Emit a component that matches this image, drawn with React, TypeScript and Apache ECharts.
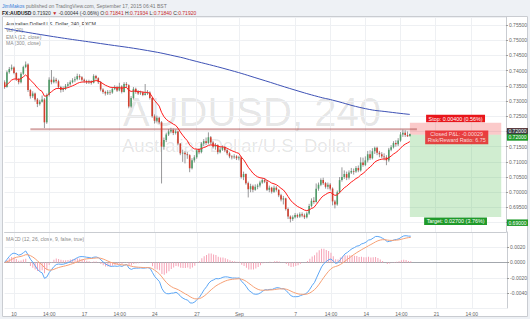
import { useEffect, useRef } from 'react';
import * as echarts from 'echarts';

const FONT = '"Liberation Sans", Arial, sans-serif';

// ---------- data ----------
const BASE = 0.69;
const PIP = 0.0001;

const tradingDays = [
  'Aug 7', 'Aug 10', 'Aug 11', 'Aug 12', 'Aug 13', 'Aug 14', 'Aug 17', 'Aug 18', 'Aug 19', 'Aug 20', 'Aug 21',
  'Aug 24', 'Aug 25', 'Aug 26', 'Aug 27', 'Aug 28', 'Aug 31', 'Sep 1', 'Sep 2', 'Sep 3', 'Sep 4',
  'Sep 7', 'Sep 8', 'Sep 9', 'Sep 10', 'Sep 11', 'Sep 14', 'Sep 15', 'Sep 16', 'Sep 17', 'Sep 18',
  'Sep 21', 'Sep 22', 'Sep 23', 'Sep 24', 'Sep 25', 'Sep 28',
];
const barHours = ['02:00', '06:00', '10:00', '14:00', '18:00', '22:00'];
const skippedFirstBars = 2;
const slotCount = 215;

const tickLabels: [string, string][] = [
  ['Aug 10 02:00', '10'], ['Aug 12 14:00', '14:00'], ['Aug 17 02:00', '17'], ['Aug 19 14:00', '14:00'],
  ['Aug 24 02:00', '24'], ['Aug 27 02:00', '27'], ['Sep 1 02:00', 'Sep'], ['Sep 7 02:00', '7'],
  ['Sep 9 14:00', '14:00'], ['Sep 14 02:00', '14'], ['Sep 16 14:00', '14:00'], ['Sep 21 02:00', '21'],
  ['Sep 23 14:00', '14:00'],
];

// pips above 0.69000
const firstOpenPips = 462;
const closePips = [
  446, 495, 505, 510, 492, 472, 462, 490, 512, 520,
  436, 416, 425, 405, 390, 398, 405, 330, 420, 470,
  462, 470, 465, 446, 436, 440, 450, 455, 462, 468,
  472, 482, 478, 470, 466, 462, 465, 460, 482, 475,
  462, 438, 430, 425, 430, 428, 440, 445, 435, 448,
  430, 456, 452, 382, 410, 440, 430, 425, 428, 420,
  425, 428, 410, 350, 335, 345, 330, 250, 272, 290,
  300, 305, 295, 300, 260, 228, 230, 225, 222, 179,
  205, 215, 238, 232, 260, 268, 262, 281, 264, 250,
  255, 232, 240, 248, 238, 228, 218, 215, 218, 212,
  215, 150, 160, 130, 110, 120, 108, 118, 122, 132,
  140, 135, 108, 115, 102, 115, 108, 90, 76, 80,
  45, 20, 12, 18, 25, 20, 28, 24, 18, 30,
  55, 72, 68, 112, 125, 140, 130, 118, 125, 112,
  70, 60, 100, 140, 150, 160, 148, 165, 170, 168,
  180, 172, 198, 190, 205, 225, 212, 235, 246, 230,
  225, 218, 215, 205, 240, 248, 262, 258, 270, 290,
  296, 288, 284, 292,
];
const highPips = [
  468, 500, 512, 520, 514, 495, 476, 495, 516, 530,
  524, 440, 432, 428, 410, 404, 418, 410, 425, 478,
  502, 480, 476, 470, 450, 448, 456, 462, 468, 475,
  480, 490, 488, 482, 474, 470, 470, 468, 488, 486,
  478, 466, 442, 434, 436, 436, 446, 452, 450, 460,
  452, 462, 462, 455, 416, 446, 444, 436, 434, 432,
  456, 436, 432, 412, 356, 352, 348, 334, 280, 296,
  308, 312, 310, 306, 302, 262, 240, 236, 232, 225,
  212, 222, 242, 245, 265, 275, 280, 297, 285, 268,
  262, 258, 248, 254, 252, 242, 232, 222, 225, 222,
  220, 218, 168, 162, 135, 128, 125, 126, 128, 138,
  146, 146, 140, 122, 118, 122, 120, 110, 95, 88,
  82, 50, 24, 24, 32, 30, 34, 34, 30, 36,
  62, 80, 84, 129, 132, 146, 148, 134, 132, 130,
  116, 75, 106, 150, 182, 172, 168, 172, 180, 178,
  186, 188, 215, 214, 218, 236, 238, 245, 250, 250,
  236, 232, 228, 222, 246, 255, 268, 271, 278, 298,
  306, 304, 300, 293,
];
const lowPips = [
  440, 444, 490, 500, 488, 466, 455, 458, 486, 508,
  430, 408, 410, 398, 380, 385, 395, 311, 325, 415,
  455, 458, 458, 440, 428, 430, 436, 445, 450, 458,
  462, 468, 470, 465, 460, 456, 456, 454, 458, 470,
  456, 432, 424, 418, 420, 420, 424, 436, 430, 432,
  425, 428, 444, 376, 378, 405, 424, 420, 420, 416,
  418, 420, 405, 345, 326, 330, 325, 129, 240, 265,
  285, 294, 288, 290, 255, 222, 200, 195, 210, 166,
  175, 198, 210, 225, 228, 252, 255, 258, 258, 244,
  240, 225, 228, 236, 232, 222, 212, 208, 210, 206,
  205, 145, 140, 125, 83, 100, 100, 105, 110, 116,
  128, 130, 104, 100, 96, 98, 102, 84, 70, 60,
  40, 12, 1, 6, 14, 15, 16, 18, 12, 14,
  26, 50, 62, 66, 105, 120, 124, 112, 110, 106,
  57, 47, 56, 96, 135, 144, 140, 142, 160, 158,
  164, 166, 168, 184, 186, 198, 206, 208, 226, 222,
  215, 212, 205, 189, 200, 235, 244, 250, 252, 266,
  282, 282, 282, 284,
];

// MA (300): [bar index, pips]
const ma300Points: [number, number][] = [
  [0, 639], [19, 614], [41, 589], [61, 566], [75, 544], [79, 536], [96, 502],
  [109, 472], [124, 436], [134, 414], [140, 403], [154, 375], [164, 364], [173, 356],
];

// horizontal support line
const supportLevel = 0.7207;
const supportFrom = 11;
const supportTo = 176;

// short position tool
const entryPrice = 0.7189;
const stopPrice = 0.7229;
const targetPrice = 0.6919;
const positionFrom = 173;
const positionTo = 212;
const positionLabelAt = 193;
const closedPnl = '-0.00029';
const riskReward = '6.75';
const lastClose = 0.7192;

// axis ranges
const priceMin = 0.68694;
const priceMax = 0.75763;
const macdMin = -0.005905;
const macdMax = 0.003944;

// texts
const publisher = 'JimMakos';
const publishedText = 'published on TradingView.com, September 17, 2015 06:41 BST';
const symbolName = 'FX:AUDUSD';
const lastText = '0.71920';
const changeText = '-0.00044 (-0.06%)';
const ohlcText: [string, string][] = [['O:', '0.71841'], ['H:', '0.71934'], ['L:', '0.71840'], ['C:', '0.71920']];
const paneTitle = 'Australian Dollar/U.S. Dollar, 240, FXCM';
const studyTitles = ['Vol (20)', 'EMA (12, close)', 'MA (300, close)'];
const macdTitle = 'MACD (12, 26, close, 9, false, true)';
const watermarkSymbol = 'AUDUSD, 240';
const watermarkName = 'Australian Dollar/U.S. Dollar';

// ---------- helpers ----------
const UP = '#4f9c68';
const DOWN = '#d23f2e';
const WICK = '#7d7d80';
const GRIDLINE = '#eef0f3';
const BORDER = '#c9ccd1';

const toPrice = (p: number) => +(BASE + p * PIP).toFixed(5);

function ema(vals: number[], n: number) {
  const k = 2 / (n + 1);
  const out: number[] = [];
  let prev = vals[0];
  vals.forEach((v, i) => {
    prev = i === 0 ? v : v * k + prev * (1 - k);
    out.push(prev);
  });
  return out;
}

function buildOption() {
  const categories: string[] = [];
  tradingDays.forEach((d) => barHours.forEach((h) => categories.push(`${d} ${h}`)));
  const cats = categories.slice(skippedFirstBars, skippedFirstBars + slotCount);
  const tickMap = new Map(tickLabels);
  const isTick = (_i: number, v: string) => tickMap.has(v);

  const closes = closePips.map(toPrice);
  const candleData = closePips.map((c, i) => [
    i,
    toPrice(i === 0 ? firstOpenPips : closePips[i - 1]),
    toPrice(c),
    toPrice(lowPips[i]),
    toPrice(highPips[i]),
  ]);
  const ema12 = ema(closes, 12);
  const ema26 = ema(closes, 26);
  const macd = ema12.map((v, i) => v - ema26[i]);
  const signal = ema(macd, 9);
  const hist = macd.map((v, i) => v - signal[i]);

  const pct = (d: number) => ((d / entryPrice) * 100).toFixed(2);
  const stopLabel = `Stop: ${(stopPrice - entryPrice).toFixed(5)} (${pct(stopPrice - entryPrice)}%)`;
  const targetLabel = `Target: ${(entryPrice - targetPrice).toFixed(5)} (${pct(entryPrice - targetPrice)}%)`;

  const smallText = { fontSize: 5, fontFamily: FONT, color: '#666' };
  const boxLabel = { color: '#fff', fontSize: 5.4, fontFamily: FONT, padding: [1.5, 2.5, 1, 2.5], borderRadius: 0 };

  const xAxisBase = {
    type: 'category',
    data: cats,
    boundaryGap: false,
    axisTick: { show: false },
    splitLine: { show: true, interval: isTick, lineStyle: { color: GRIDLINE, width: 1 } },
  };
  const yAxisBase = {
    type: 'value',
    position: 'right',
    axisLine: { show: true, lineStyle: { color: BORDER } },
    axisTick: { show: true, length: 2, lineStyle: { color: '#999' } },
    splitLine: { show: true, lineStyle: { color: GRIDLINE } },
  };

  const txt = (x: number, y: number, text: string, fill: string, size = 5, extra: any = {}) => ({
    type: 'text',
    x,
    y,
    silent: true,
    style: {
      text,
      fill,
      fontSize: size,
      fontFamily: FONT,
      textAlign: 'left',
      align: 'left',
      textVerticalAlign: 'middle',
      verticalAlign: 'middle',
      ...extra,
    },
  });

  const line2 = [
    `{k|${symbolName}} {d|${lastText}} {r|▼} {d|${changeText}}`,
    ...ohlcText.map(([k, v]) => ` {d|${k}}{r|${v}}`),
  ].join('');

  const axisTag = (value: number, bg: string, offsetY = 0) => ({
    yAxis: value,
    label: { backgroundColor: bg, offset: [0, offsetY] },
  });

  return {
    animation: false,
    backgroundColor: '#ffffff',
    textStyle: { fontFamily: FONT },
    grid: [
      { left: 4.6, top: 17, width: 502.6, height: 215 },
      { left: 4.6, top: 232, width: 502.6, height: 76 },
    ],
    xAxis: [
      { ...xAxisBase, gridIndex: 0, axisLine: { show: true, lineStyle: { color: BORDER } }, axisLabel: { show: false } },
      {
        ...xAxisBase,
        gridIndex: 1,
        axisLine: { show: true, lineStyle: { color: '#a3a7ad' } },
        axisLabel: { ...smallText, interval: isTick, margin: 3, formatter: (v: string) => tickMap.get(v) || '' },
      },
    ],
    yAxis: [
      {
        ...yAxisBase,
        gridIndex: 0,
        min: priceMin,
        max: priceMax,
        splitNumber: 14,
        axisLabel: { ...smallText, margin: 3, showMinLabel: false, showMaxLabel: false, formatter: (v: number) => v.toFixed(5) },
      },
      {
        ...yAxisBase,
        gridIndex: 1,
        min: macdMin,
        max: macdMax,
        splitNumber: 5,
        axisLabel: { ...smallText, margin: 3, showMinLabel: false, showMaxLabel: false, formatter: (v: number) => v.toFixed(4) },
      },
    ],
    graphic: [
      { type: 'rect', silent: true, shape: { x: 0, y: 0, width: 530, height: 16 }, style: { fill: '#eef1f5' } },
      { type: 'rect', silent: true, shape: { x: 0, y: 16, width: 2, height: 303 }, style: { fill: '#eef1f5' } },
      { type: 'rect', silent: true, shape: { x: 528, y: 16, width: 2, height: 303 }, style: { fill: '#eef1f5' } },
      { type: 'rect', silent: true, shape: { x: 0, y: 317, width: 530, height: 2 }, style: { fill: '#eef1f5' } },
      { type: 'rect', silent: true, shape: { x: 2.5, y: 16.5, width: 525, height: 300 }, style: { fill: 'none', stroke: BORDER, lineWidth: 1 } },
      {
        type: 'text', x: 123, y: 112, silent: true, z: -1,
        style: { text: watermarkSymbol, fill: 'rgba(0,0,0,0.11)', fontSize: 40, fontFamily: FONT, textVerticalAlign: 'middle', verticalAlign: 'middle' },
      },
      {
        type: 'text', x: 122, y: 145.5, silent: true, z: -1,
        style: { text: watermarkName, fill: 'rgba(0,0,0,0.11)', fontSize: 18.5, fontFamily: FONT, textVerticalAlign: 'middle', verticalAlign: 'middle' },
      },
      txt(2, 5.5, `{a|${publisher}} {b|${publishedText}}`, '#777', 5, {
        rich: {
          a: { fill: '#3b7dd8', color: '#3b7dd8', fontSize: 5, fontFamily: FONT },
          b: { fill: '#777', color: '#777', fontSize: 5, fontFamily: FONT },
        },
      }),
      txt(2, 12.5, line2, '#333', 5, {
        rich: {
          k: { fill: '#222', color: '#222', fontWeight: 'bold', fontSize: 5, fontFamily: FONT },
          d: { fill: '#333', color: '#333', fontSize: 5, fontFamily: FONT },
          r: { fill: '#c62828', color: '#c62828', fontSize: 5, fontFamily: FONT },
        },
      }),
      txt(6, 23.5, paneTitle, '#333'),
      ...studyTitles.map((t, i) => txt(6, 30 + i * 6.7, t, '#8a8a8a')),
      txt(6, 239, macdTitle, '#8a8a8a'),
    ],
    series: [
      {
        type: 'custom',
        name: 'candles',
        xAxisIndex: 0,
        yAxisIndex: 0,
        clip: true,
        z: 3,
        encode: { x: 0, y: [1, 2, 3, 4] },
        data: candleData,
        renderItem: (_params: any, api: any) => {
          const i = api.value(0);
          const o = api.value(1);
          const c = api.value(2);
          const l = api.value(3);
          const h = api.value(4);
          const po = api.coord([i, o]);
          const pc = api.coord([i, c]);
          const pl = api.coord([i, l]);
          const ph = api.coord([i, h]);
          const bw = 1.6;
          const top = Math.min(po[1], pc[1]);
          const hgt = Math.max(Math.abs(po[1] - pc[1]), 0.7);
          return {
            type: 'group',
            children: [
              { type: 'line', shape: { x1: ph[0], y1: ph[1], x2: pl[0], y2: pl[1] }, style: { stroke: WICK, lineWidth: 0.8 } },
              { type: 'rect', shape: { x: po[0] - bw / 2, y: top, width: bw, height: hgt }, style: { fill: c >= o ? UP : DOWN } },
            ],
          };
        },
      },
      {
        type: 'line',
        name: 'MA300',
        xAxisIndex: 0,
        yAxisIndex: 0,
        data: ma300Points.map(([i, p]) => [i, toPrice(p)]),
        smooth: true,
        showSymbol: false,
        z: 4,
        lineStyle: { color: '#3e52b5', width: 1 },
      },
      {
        type: 'line',
        name: 'support',
        xAxisIndex: 0,
        yAxisIndex: 0,
        data: [[supportFrom, supportLevel], [supportTo, supportLevel]],
        showSymbol: false,
        z: 2,
        lineStyle: { color: 'rgba(165,60,60,0.45)', width: 2 },
      },
      {
        type: 'line',
        name: 'EMA12',
        xAxisIndex: 0,
        yAxisIndex: 0,
        data: ema12.map((v) => +v.toFixed(5)),
        showSymbol: false,
        z: 5,
        lineStyle: { color: '#ff1a1a', width: 1 },
        markArea: {
          silent: true,
          data: [
            [
              {
                xAxis: cats[positionFrom], yAxis: stopPrice,
                itemStyle: { color: 'rgba(242,80,80,0.3)' },
                label: { ...boxLabel, show: true, position: 'top', distance: 0.5, formatter: stopLabel, backgroundColor: '#e8161b' },
              },
              { xAxis: cats[positionTo], yAxis: entryPrice },
            ],
            [
              {
                xAxis: cats[positionFrom], yAxis: entryPrice,
                itemStyle: { color: 'rgba(80,190,80,0.27)' },
                label: { ...boxLabel, show: true, position: 'bottom', distance: 0.5, formatter: targetLabel, backgroundColor: '#1f9a2a' },
              },
              { xAxis: cats[positionTo], yAxis: targetPrice },
            ],
          ],
        },
        markLine: {
          silent: true,
          symbol: 'none',
          lineStyle: { width: 0, color: 'rgba(0,0,0,0)', opacity: 1 },
          label: {
            ...boxLabel,
            show: true,
            opacity: 1,
            fontSize: 5,
            position: 'end',
            distance: 1,
            padding: [1, 1.5, 0.5, 1.5],
            formatter: (p: any) => Number(p.value).toFixed(5),
          },
          data: [
            axisTag(stopPrice, '#e8161b'),
            axisTag(lastClose, '#3a3d42'),
            axisTag(entryPrice, '#1f9a2a', 6),
            axisTag(targetPrice, '#1f9a2a'),
          ],
        },
      },
      {
        type: 'scatter',
        name: 'pnl',
        xAxisIndex: 0,
        yAxisIndex: 0,
        symbolSize: 1,
        itemStyle: { color: 'rgba(0,0,0,0)' },
        z: 6,
        data: [[positionLabelAt, entryPrice]],
        label: {
          ...boxLabel,
          show: true,
          position: 'inside',
          offset: [0, 2.5],
          lineHeight: 5.6,
          align: 'center',
          backgroundColor: '#e8161b',
          formatter: `Closed P&L: ${closedPnl}\nRisk/Reward Ratio: ${riskReward}`,
        },
      },
      {
        type: 'bar',
        name: 'hist',
        xAxisIndex: 1,
        yAxisIndex: 1,
        data: hist.map((v) => +v.toFixed(6)),
        barWidth: 0.9,
        itemStyle: { color: '#f6a3b6' },
      },
      {
        type: 'line',
        name: 'MACD',
        xAxisIndex: 1,
        yAxisIndex: 1,
        data: macd.map((v) => +v.toFixed(6)),
        showSymbol: false,
        lineStyle: { color: '#5ca6f5', width: 1 },
      },
      {
        type: 'line',
        name: 'Signal',
        xAxisIndex: 1,
        yAxisIndex: 1,
        data: signal.map((v) => +v.toFixed(6)),
        showSymbol: false,
        lineStyle: { color: '#f6a075', width: 1 },
      },
    ],
  };
}

export default function App() {
  const ref = useRef<HTMLDivElement>(null);
  useEffect(() => {
    document.body.style.margin = '0';
    const chart = echarts.init(ref.current!, undefined, { renderer: 'svg' });
    chart.setOption(buildOption() as any);
    return () => chart.dispose();
  }, []);
  return <div ref={ref} style={{ position: 'fixed', left: 0, top: 0, width: 530, height: 319 }} />;
}
